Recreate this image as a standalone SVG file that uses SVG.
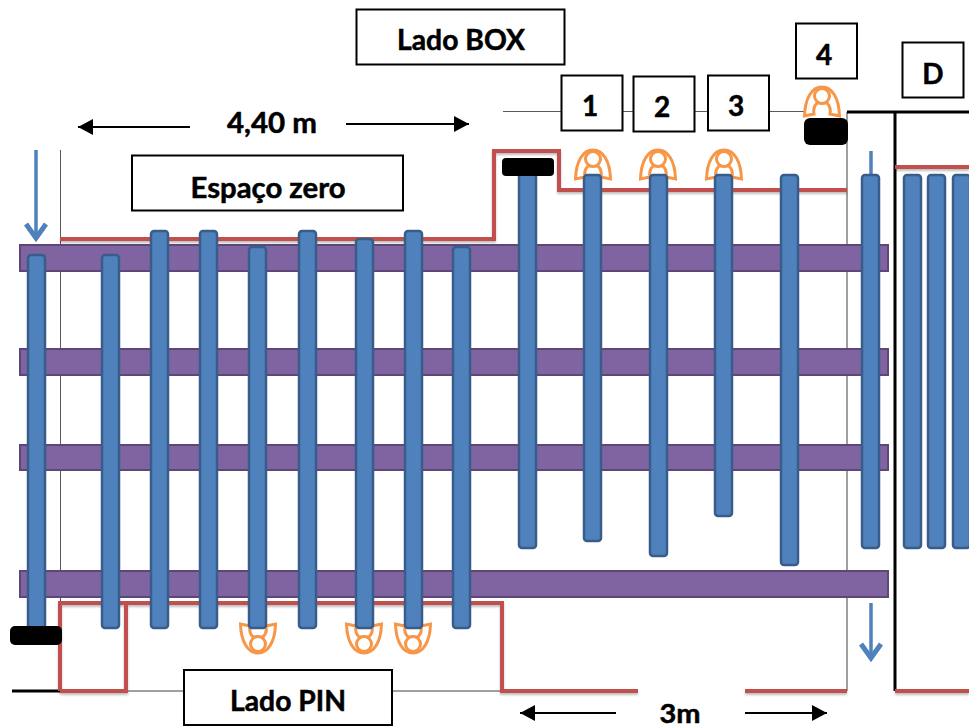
<svg xmlns="http://www.w3.org/2000/svg" width="969" height="728" viewBox="0 0 969 728">
<style>
.rail{fill:#8064a2;stroke:#5c4776;stroke-width:2}
.bar{fill:#4f81bd;stroke:#385d8a;stroke-width:2.500}
.red{fill:none;stroke:#c0504d;stroke-width:4;stroke-linejoin:miter}
.thin{fill:none;stroke:#7f7f7f;stroke-width:1.500}
.hair{fill:none;stroke:#595959;stroke-width:1}
.blk{fill:none;stroke:#000;stroke-width:3}
.box{fill:#fff;stroke:#000;stroke-width:2}
.pad{fill:#000}
.dim{fill:none;stroke:#000;stroke-width:2}
.flow{fill:none;stroke:#4f81bd;stroke-width:3.500}
.person{fill:#fff;stroke:#f79646;stroke-width:3}
text{font-family:"Lato","Carlito","Liberation Sans",sans-serif;font-weight:700;font-size:28px;fill:#000;stroke:#000;stroke-width:.5;text-anchor:middle}
</style>
<defs>
<filter id="sh" x="-5%" y="-5%" width="110%" height="110%"><feDropShadow dx="0" dy="2" stdDeviation="1.200" flood-color="#000" flood-opacity=".25"/></filter>
<marker id="ah" markerWidth="16" markerHeight="16" refX="15" refY="8" orient="auto" markerUnits="userSpaceOnUse"><path d="M0 0L15 8L0 16Z" fill="#000"/></marker>
<marker id="fh" markerWidth="24" markerHeight="26" refX="20" refY="12" orient="auto" markerUnits="userSpaceOnUse"><path d="M6 2L20 12L6 22" fill="none" stroke="#4f81bd" stroke-width="5"/></marker>
<g id="p">
<path class="person" d="M-17.500 14C-17 -4 -10 -15 0 -15C10 -15 17 -4 17.500 14L8 12C9 7 7 3 5 1L-5 1C-7 3 -9 7 -8 12Z"/>
<circle class="person" cx="0" cy="-6" r="7.500"/>
</g>
</defs>
<rect width="969" height="728" fill="#fff"/>
<g id="connectors">
<path class="hair" d="M60.500 150V245M60.500 271V603"/>
<path class="thin" d="M847 112V691"/>
<path class="hair" d="M503 111.500H805"/>
<path class="thin" d="M60 691H502"/>
<path class="blk" d="M12 691H60"/>
<path class="blk" d="M847 112H969M895 112V691"/>
<g filter="url(#sh)">
<path class="red" d="M60 239H494V151H559V190H847"/>
<path class="red" d="M60 691V603H502V691H638"/>
<path class="red" d="M60 691H126V603"/>
<path class="red" d="M745 691H847"/>
<path class="red" d="M895 691H969M895 167H969"/>
</g>
<path class="dim" d="M190 127H78" marker-end="url(#ah)"/>
<path class="dim" d="M346 124H469" marker-end="url(#ah)"/>
<path class="dim" d="M616 713H520" marker-end="url(#ah)"/>
<path class="dim" d="M745 713H827" marker-end="url(#ah)"/>
<path class="flow" d="M36 150V238" marker-end="url(#fh)"/>
<path class="flow" d="M871 151V176"/>
<path class="flow" d="M871 603V658" marker-end="url(#fh)"/>
</g>
<g id="rails">
<rect class="rail" x="20" y="245" width="868" height="26"/>
<rect class="rail" x="20" y="349" width="868" height="26"/>
<rect class="rail" x="20" y="445" width="868" height="25"/>
<rect class="rail" x="20" y="571" width="868" height="26"/>
</g>
<g id="people">
<use href="#p" x="593" y="165"/>
<use href="#p" x="658" y="165"/>
<use href="#p" x="724" y="165"/>
<use href="#p" x="822" y="102"/>
<use href="#p" transform="translate(258 638) scale(1 -1)"/>
<use href="#p" transform="translate(364 638) scale(1 -1)"/>
<use href="#p" transform="translate(413 638) scale(1 -1)"/>
</g>
<g id="bars">
<rect class="bar" x="28" y="255" width="17" height="375" rx="3"/>
<rect class="bar" x="102" y="255" width="17" height="373" rx="3"/>
<rect class="bar" x="151" y="231" width="17" height="397" rx="3"/>
<rect class="bar" x="200" y="231" width="17" height="397" rx="3"/>
<rect class="bar" x="249" y="247" width="17" height="381" rx="3"/>
<rect class="bar" x="299" y="231" width="17" height="397" rx="3"/>
<rect class="bar" x="356" y="239" width="17" height="389" rx="3"/>
<rect class="bar" x="405" y="231" width="17" height="397" rx="3"/>
<rect class="bar" x="453" y="247" width="17" height="381" rx="3"/>
<rect class="bar" x="519" y="168" width="17" height="380" rx="3"/>
<rect class="bar" x="584" y="175" width="17" height="366" rx="3"/>
<rect class="bar" x="650" y="175" width="17" height="381" rx="3"/>
<rect class="bar" x="715" y="175" width="17" height="341" rx="3"/>
<rect class="bar" x="781" y="175" width="17" height="390" rx="3"/>
<rect class="bar" x="862" y="175" width="17" height="373" rx="3"/>
<rect class="bar" x="904" y="175" width="17" height="373" rx="3"/>
<rect class="bar" x="928" y="175" width="17" height="373" rx="3"/>
<rect class="bar" x="953" y="175" width="17" height="373" rx="3"/>
</g>
<g id="pads">
<rect class="pad" x="502" y="158" width="52" height="18" rx="4"/>
<rect class="pad" x="804" y="118" width="44" height="27" rx="6"/>
<rect class="pad" x="10" y="626" width="52" height="19" rx="5"/>
</g>
<g id="n-box"><rect class="box" x="356.500" y="9.500" width="208" height="55"/><text x="461" y="50" textLength="128" lengthAdjust="spacingAndGlyphs">Lado BOX</text></g>
<g id="n-1"><rect class="box" x="561.500" y="75.500" width="61" height="55"/><text x="590" y="116">1</text></g>
<g id="n-2"><rect class="box" x="633.500" y="76.500" width="61" height="55"/><text x="662" y="117">2</text></g>
<g id="n-3"><rect class="box" x="708" y="75.500" width="61" height="55"/><text x="736" y="116">3</text></g>
<g id="n-4"><rect class="box" x="796" y="23.500" width="61" height="55"/><text x="824" y="65">4</text></g>
<g id="n-d"><rect class="box" x="902.500" y="42.500" width="61" height="55"/><text x="933" y="84">D</text></g>
<g id="n-zero"><rect class="box" x="132" y="155.500" width="271" height="55"/><text x="268" y="198" textLength="155" lengthAdjust="spacingAndGlyphs">Espaço zero</text></g>
<g id="n-pin"><rect class="box" x="184" y="670" width="208" height="55"/><text x="288" y="711" textLength="116" lengthAdjust="spacingAndGlyphs">Lado PIN</text></g>
<text id="t-440" x="272" y="133" textLength="90" lengthAdjust="spacingAndGlyphs">4,40 m</text>
<text id="t-3m" x="680" y="723" style="font-size:26px" textLength="41" lengthAdjust="spacingAndGlyphs">3m</text>
</svg>
